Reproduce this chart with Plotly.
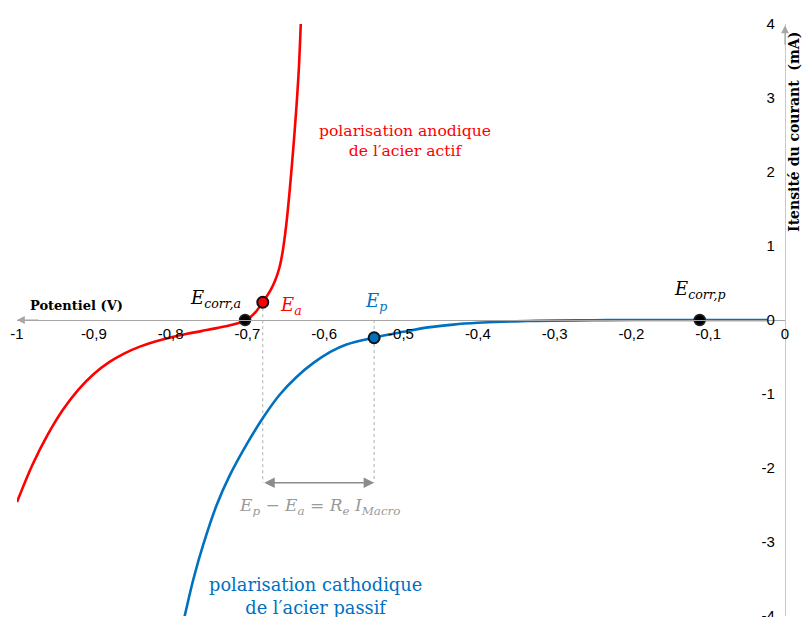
import plotly.graph_objects as go

# courbe anodique (acier actif)
red_v = [-1.000, -0.980, -0.960, -0.940, -0.920, -0.900, -0.880, -0.860, -0.840, -0.820,
         -0.800, -0.780, -0.760, -0.740, -0.720, -0.700, -0.690, -0.680, -0.670, -0.664,
         -0.658, -0.654, -0.651, -0.648, -0.645, -0.642, -0.639, -0.636, -0.633, -0.6305]
red_i = [-2.46, -1.96, -1.55, -1.21, -0.94, -0.73, -0.57, -0.45, -0.36, -0.29,
         -0.235, -0.19, -0.15, -0.11, -0.065, 0.01, 0.10, 0.24, 0.40, 0.53,
         0.72, 0.93, 1.15, 1.42, 1.74, 2.10, 2.48, 2.90, 3.40, 4.00]

# courbe cathodique (acier passif)
blue_v = [-0.786, -0.781, -0.770, -0.757, -0.740, -0.723, -0.701, -0.679, -0.658, -0.636,
          -0.614, -0.592, -0.571, -0.536, -0.497, -0.465, -0.432, -0.400, -0.367, -0.335,
          -0.302, -0.250, -0.200, -0.111, -0.023]
blue_i = [-4.20, -3.97, -3.49, -3.02, -2.50, -2.10, -1.68, -1.31, -1.01, -0.77,
          -0.58, -0.43, -0.33, -0.24, -0.16, -0.10, -0.062, -0.038, -0.023, -0.014,
          -0.008, -0.003, 0.0, 0.0, 0.0]

# points remarquables
ecorr_a = (-0.703, 0.0)
e_a = (-0.680, 0.24)
e_p = (-0.535, -0.24)
ecorr_p = (-0.111, 0.0)
arrow_i = -2.20

x_ticks = [-1, -0.9, -0.8, -0.7, -0.6, -0.5, -0.4, -0.3, -0.2, -0.1, 0]
x_text = ['-1', '-0,9', '-0,8', '-0,7', '-0,6', '-0,5', '-0,4', '-0,3', '-0,2', '-0,1', '0']
y_ticks = [4, 3, 2, 1, 0, -1, -2, -3, -4]
y_text = ['4', '3', '2', '1', '0', '-1', '-2', '-3', '-4']

RED = '#FF0000'
BLUE = '#0070C0'
GREY = '#A6A6A6'
SERIF = 'DejaVu Serif'

fig = go.Figure()

# lignes pointillées verticales
fig.add_trace(go.Scatter(x=[e_a[0], e_a[0]], y=[e_a[1], arrow_i], mode='lines',
                         line=dict(color='#AFAFAF', width=1, dash='dot'), hoverinfo='skip'))
fig.add_trace(go.Scatter(x=[e_p[0], e_p[0]], y=[0, arrow_i], mode='lines',
                         line=dict(color='#AFAFAF', width=1, dash='dot'), hoverinfo='skip'))

fig.add_trace(go.Scatter(x=red_v, y=red_i, mode='lines', line=dict(color=RED, width=2.6, shape='spline', smoothing=1.0)))
fig.add_trace(go.Scatter(x=blue_v, y=blue_i, mode='lines', line=dict(color=BLUE, width=2.6, shape='spline', smoothing=1.0)))

fig.add_trace(go.Scatter(x=[ecorr_a[0], ecorr_p[0]], y=[ecorr_a[1], ecorr_p[1]], mode='markers',
                         marker=dict(color='black', size=11, line=dict(color='#222', width=1.5))))
fig.add_trace(go.Scatter(x=[e_a[0]], y=[e_a[1]], mode='markers',
                         marker=dict(color=RED, size=11, line=dict(color='#111', width=2))))
fig.add_trace(go.Scatter(x=[e_p[0]], y=[e_p[1]], mode='markers',
                         marker=dict(color=BLUE, size=11, line=dict(color='#111', width=2))))

ann = []
# flèches des axes
ann.append(dict(x=-1.0, y=0, ax=-0.97, ay=0, xref='x', yref='y', axref='x', ayref='y', text='',
                showarrow=True, arrowhead=2, arrowsize=1.3, arrowwidth=1.2, arrowcolor=GREY))
ann.append(dict(x=0, y=3.98, ax=0, ay=3.7, xref='x', yref='y', axref='x', ayref='y', text='',
                showarrow=True, arrowhead=2, arrowsize=1.3, arrowwidth=1.2, arrowcolor=GREY))
# double flèche
ann.append(dict(x=e_p[0], y=arrow_i, ax=e_a[0], ay=arrow_i, xref='x', yref='y', axref='x', ayref='y',
                text='', showarrow=True, arrowhead=2, startarrowhead=2, arrowside='end+start',
                arrowsize=1.4, arrowwidth=1.5, arrowcolor='#8C8C8C'))

def label(x, y, text, color='black', size=17, family=SERIF, **kw):
    ann.append(dict(x=x, y=y, xref='x', yref='y', text=text, showarrow=False,
                    font=dict(color=color, size=size, family=family), **kw))

label(-0.741, 0.29, '<i>E<sub>corr,a</sub></i>', size=18)
label(-0.643, 0.19, '<i>E<sub>a</sub></i>', color=RED, size=18)
label(-0.533, 0.25, '<i>E<sub>p</sub></i>', color=BLUE, size=18)
label(-0.111, 0.41, '<i>E<sub>corr,p</sub></i>', size=18)
label(-0.606, -2.52, '<i>E<sub>p</sub></i> − <i>E<sub>a</sub></i> = <i>R<sub>e</sub> I<sub>Macro</sub></i>',
      color='#999999', size=17)
label(-0.922, 0.19, '<b>Potentiel (V)</b>', size=13)
label(-0.495, 2.42, 'polarisation anodique<br>de l′acier actif', color=RED, size=15.6)
label(-0.611, -3.73, 'polarisation cathodique<br>de l′acier passif', color=BLUE, size=17.8)
ann.append(dict(x=1.0, y=0.99, xref='paper', yref='paper', xanchor='left', yanchor='top', xshift=-1,
                text='<b>Itensité du courant  (mA)</b>', textangle=-90, showarrow=False,
                font=dict(color='black', size=14, family=SERIF)))

fig.update_layout(
    width=803, height=617, showlegend=False,
    plot_bgcolor='white', paper_bgcolor='white',
    margin=dict(l=17, r=18, t=24, b=1),
    annotations=ann,
    xaxis=dict(range=[-1.0, 0.0], anchor='free', position=0.5, tickvals=x_ticks, ticktext=x_text,
               automargin=False, showgrid=False, zeroline=False, showline=True, linecolor=GREY,
               linewidth=1.2, ticks='', tickfont=dict(family='Liberation Sans', size=15, color='black')),
    yaxis=dict(range=[-4, 4], side='right', anchor='free', position=1.0, ticklabelposition='inside',
               ticklabeloverflow='allow', tickvals=y_ticks, ticktext=y_text, automargin=False,
               ticks='inside', ticklen=10, tickcolor='rgba(0,0,0,0)',
               showgrid=False, zeroline=False, showline=True, linecolor='#C8C8C8', linewidth=1.2,
               tickfont=dict(family='Liberation Sans', size=15, color='black')),
)

fig.write_html('out.html', config={'displayModeBar': False},
               post_script="document.body.style.margin='0';")
